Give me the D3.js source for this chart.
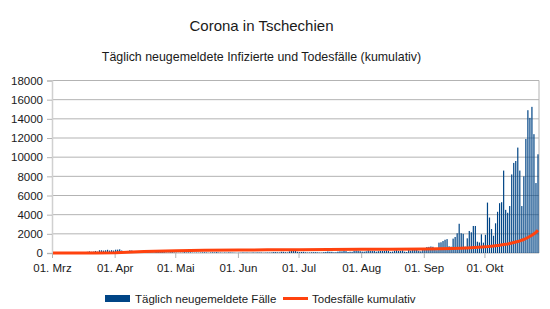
<!DOCTYPE html>
<html>
<head>
<meta charset="utf-8">
<script src="https://cdn.jsdelivr.net/npm/d3@7/dist/d3.min.js"></script>
<style>
  html, body { margin: 0; padding: 0; background: #fff; }
  text { font-family: "Liberation Sans", Arial, sans-serif; fill: #1a1a1a; }
</style>
</head>
<body>
<svg id="chart" width="550" height="309"></svg>
<script>
// Tägliche Fälle, je Monat (Werte aus dem Bild geschätzt)
const casesMar = [3,0,2,0,3,11,7,5,9,9,24,22,47,48,45,104,69,124,170,129,146,212,144,290,285,251,283,334,256,294,257];
const casesApr = [345,350,382,260,177,163,214,284,263,171,180,115,96,178,254,135,119,91,75,66,134,105,99,101,86,50,41,70,80,47];
const casesMai = [39,20,34,32,78,51,56,60,33,28,40,27,44,62,69,52,22,54,71,59,91,45,47,28,51,36,67,52,41,27,13];
const casesJun = [33,35,59,44,53,39,38,59,41,62,57,57,30,43,57,50,54,96,100,75,59,126,123,84,61,168,260,305,210,127];
const casesJul = [90,108,119,73,52,58,79,88,91,70,50,48,91,113,157,130,123,75,82,141,176,170,259,198,110,134,124,249,264,240,193];
const casesAug = [147,144,183,284,225,226,226,146,194,216,219,236,283,219,123,147,253,291,212,224,279,140,111,308,251,345,386,478,239,176,327];
const casesSep = [480,620,640,680,650,340,300,1080,1120,1250,1380,1450,700,660,1500,1670,2060,3050,2060,2000,660,1530,2300,2160,2820,2820,1180,1100,1950,1080];
const casesOkt = [1900,5260,3700,2500,1800,3100,4300,5200,5300,8600,4500,4200,4900,8200,9400,9600,11000,8600,4900,8000,11900,14900,14100,15250,12400,7300,10300];

// Todesfälle kumulativ
const deathDates = ["2020-03-01","2020-03-22","2020-04-01","2020-04-15","2020-05-01","2020-05-15","2020-06-01","2020-06-15","2020-07-01","2020-07-15","2020-08-01","2020-08-15","2020-09-01","2020-09-08","2020-09-15","2020-09-22","2020-10-01","2020-10-05","2020-10-08","2020-10-10","2020-10-12","2020-10-14","2020-10-16","2020-10-18","2020-10-20","2020-10-22","2020-10-24","2020-10-26","2020-10-27"];
const deathValues = [0,1,31,160,236,290,318,330,349,358,383,396,426,442,470,526,640,740,820,880,940,1040,1150,1260,1410,1620,1850,2150,2370];

const yTicks = [0,2000,4000,6000,8000,10000,12000,14000,16000,18000];
const monthLabels = ["01. Mrz","01. Apr","01. Mai","01. Jun","01. Jul","01. Aug","01. Sep","01. Okt"];

const parse = d3.utcParse("%Y-%m-%d");
const start = parse("2020-03-01");
const cases = [].concat(casesMar, casesApr, casesMai, casesJun, casesJul, casesAug, casesSep, casesOkt);
const bars = cases.map((v, i) => ({ date: d3.utcDay.offset(start, i), value: v }));
const deaths = deathDates.map((d, i) => ({ date: parse(d), value: deathValues[i] }));

const svg = d3.select("#chart");
const m = { left: 52, right: 539, top: 80.5, bottom: 253 };

const x = d3.scaleUtc()
  .domain([start, d3.utcDay.offset(start, cases.length)])
  .range([m.left, m.right]);
const y = d3.scaleLinear().domain([0, 18000]).range([m.bottom, m.top]);
const day = x(d3.utcDay.offset(start, 1)) - x(start);

// Titel
svg.append("text").attr("x", 261.5).attr("y", 31).attr("text-anchor", "middle")
  .style("font-size", "15px").text("Corona in Tschechien");
svg.append("text").attr("x", 261.5).attr("y", 61).attr("text-anchor", "middle")
  .style("font-size", "12.4px").text("Täglich neugemeldete Infizierte und Todesfälle (kumulativ)");

// Gitter
svg.append("g").selectAll("line").data(yTicks).join("line")
  .attr("x1", m.left).attr("x2", m.right)
  .attr("y1", d => y(d)).attr("y2", d => y(d))
  .attr("stroke", "#b3b3b3").attr("stroke-width", 1);

svg.append("line").attr("x1", m.right).attr("x2", m.right).attr("y1", m.top).attr("y2", m.bottom)
  .attr("stroke", "#b3b3b3");

// y-Achse
const yAxis = svg.append("g").attr("transform", `translate(${m.left},0)`)
  .call(d3.axisLeft(y).tickValues(yTicks).tickSize(5).tickPadding(4).tickFormat(d3.format("d")));
yAxis.select(".domain").attr("stroke", "#d0d0d0").attr("stroke-width", 1.5);
yAxis.selectAll(".tick line").attr("stroke", "#b3b3b3");
yAxis.selectAll("text").style("font-size", "11.5px").attr("fill", "#1a1a1a");

// x-Achse
const monthTicks = d3.utcMonth.range(start, parse("2020-10-28"));
const xAxis = svg.append("g").attr("transform", `translate(0,${m.bottom})`)
  .call(d3.axisBottom(x).tickValues(monthTicks).tickSize(5).tickPadding(6)
    .tickFormat((d, i) => monthLabels[i]));
xAxis.select(".domain").remove();
xAxis.selectAll(".tick line").attr("stroke", "#b3b3b3");
xAxis.selectAll("text").style("font-size", "11.5px").attr("fill", "#1a1a1a");

// Balken
svg.append("g").selectAll("rect").data(bars).join("rect")
  .attr("x", d => x(d.date) + day / 2 - 0.6)
  .attr("width", 1.2)
  .attr("y", d => y(d.value))
  .attr("height", d => m.bottom - y(d.value))
  .attr("fill", "#004586");

// Linie
const line = d3.line()
  .x(d => x(d.date) + day / 2)
  .y(d => y(d.value));
svg.append("path").datum(deaths)
  .attr("d", line)
  .attr("fill", "none")
  .attr("stroke", "#ff420e")
  .attr("stroke-width", 3)
  .attr("stroke-linejoin", "round");

// Legende
const lg = svg.append("g");
lg.append("rect").attr("x", 105).attr("y", 295).attr("width", 25).attr("height", 7).attr("fill", "#004586");
lg.append("text").attr("x", 135).attr("y", 302.5).style("font-size", "11.5px").text("Täglich neugemeldete Fälle");
lg.append("line").attr("x1", 283).attr("x2", 308).attr("y1", 298.5).attr("y2", 298.5)
  .attr("stroke", "#ff420e").attr("stroke-width", 3);
lg.append("text").attr("x", 312).attr("y", 302.5).style("font-size", "11.5px").text("Todesfälle kumulativ");
</script>
</body>
</html>
